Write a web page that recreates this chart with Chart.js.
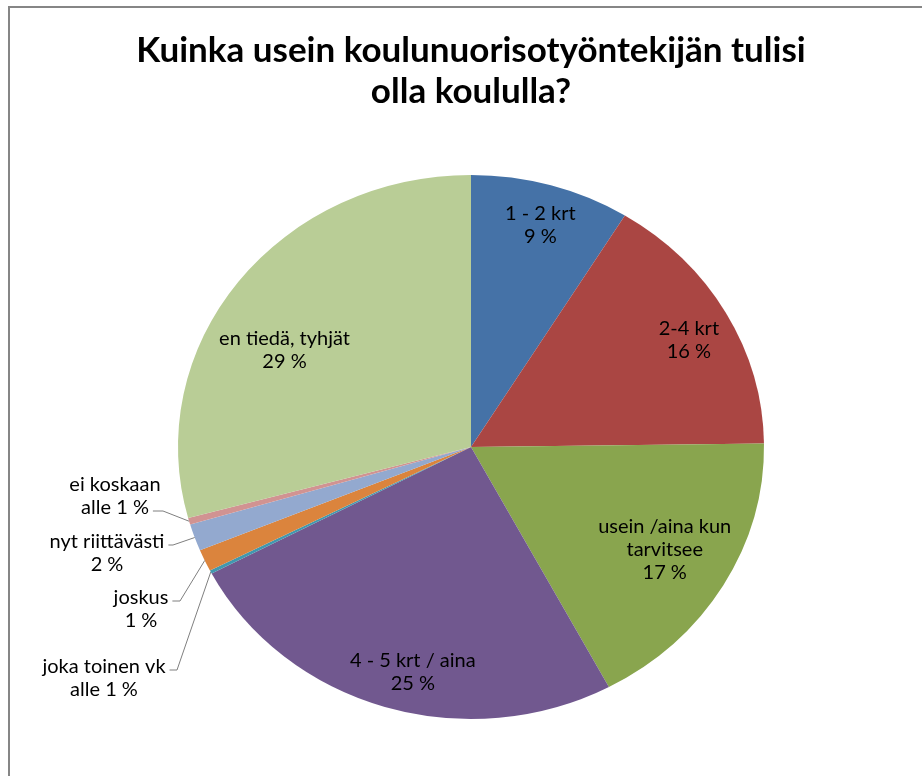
<!DOCTYPE html>
<html>
<head>
<meta charset="utf-8">
<script src="https://cdn.jsdelivr.net/npm/chart.js@4.4.1/dist/chart.umd.min.js"></script>
<style>
html, body { margin: 0; padding: 0; background: #fff; }
#wrap { position: relative; width: 922px; height: 776px; overflow: hidden; }
#frame { position: absolute; left: 8px; top: 6px; width: 940px; height: 800px; border: 2px solid #868686; box-sizing: border-box; }
canvas { position: absolute; left: 0; top: 0; }
</style>
</head>
<body>
<div id="wrap">
  <div id="frame"></div>
  <canvas id="pieChart" width="922" height="776"></canvas>
</div>
<script>
// vastaukset (%)
const titleLines = ['Kuinka usein koulunuorisotyöntekijän tulisi', 'olla koululla?'];
const categories = ['1 - 2 krt', '2-4 krt', ['usein /aina kun', 'tarvitsee'], '4 - 5 krt / aina',
    'joka toinen vk', 'joskus', 'nyt riittävästi', 'ei koskaan', 'en tiedä, tyhjät'];
const values = [8.8, 16.0, 17.4, 25.1, 0.2, 1.3, 1.6, 0.4, 29.2];
const colors = ['#4572A7', '#AA4643', '#89A54E', '#71588F', '#4198AF', '#DB843D', '#93A9CF', '#D19392', '#B9CD96'];

// tyyli / sijoittelu
const yScale = 272 / 293;           // piirakka on hieman litistetty
const labelFont = '20px Lato';
const lineH = 23;
const insideNudge = [[7, -18], [19, -2], [-3, -5], [9, 22], null, null, null, null, [-5, 32]];
const outside = {
    4: { x: 104, y: 667, attach: 0, elbowX: 177 },
    5: { x: 141, y: 598, attach: 0, elbowX: 180 },
    6: { x: 107, y: 542, attach: 0, elbowX: 173 },
    7: { x: 115, y: 485, attach: 1, elbowX: 163 }
};

function pctText(v) {
    return v < 1 ? 'alle 1 %' : Math.round(v) + ' %';
}

const squash = {
    id: 'squash',
    beforeDatasetsDraw(chart) {
        const a = chart.getDatasetMeta(0).data[0];
        const ctx = chart.ctx;
        ctx.save();
        ctx.translate(0, a.y);
        ctx.scale(1, yScale);
        ctx.translate(0, -a.y);
    },
    afterDatasetsDraw(chart) {
        chart.ctx.restore();
    }
};

const labels = {
    id: 'labels',
    afterDraw(chart) {
        const ctx = chart.ctx;
        ctx.save();
        // otsikko
        ctx.fillStyle = '#000';
        ctx.textAlign = 'center';
        ctx.textBaseline = 'alphabetic';
        ctx.font = 'bold 34px Lato';
        const w = ctx.measureText(titleLines[0]).width;
        const size = 34 * 670 / w;
        ctx.font = 'bold ' + size.toFixed(1) + 'px Lato';
        ctx.fillText(titleLines[0], 471, 62);
        ctx.fillText(titleLines[1], 471, 103);

        ctx.font = labelFont;
        ctx.textBaseline = 'middle';
        chart.getDatasetMeta(0).data.forEach((arc, i) => {
            const p = arc.getProps(['x', 'y', 'startAngle', 'endAngle', 'outerRadius'], true);
            const mid = (p.startAngle + p.endAngle) / 2;
            const name = [].concat(categories[i]);
            const lines = name.concat([pctText(values[i])]);
            if (outside[i]) {
                const o = outside[i];
                lines.forEach((t, k) => ctx.fillText(t, o.x, o.y + k * lineH));
                const ly = o.y + o.attach * lineH + 3;
                const lx = o.x + ctx.measureText(lines[o.attach]).width / 2 + 4;
                const ex = p.x + Math.cos(mid) * p.outerRadius;
                const ey = p.y + Math.sin(mid) * p.outerRadius * yScale;
                ctx.strokeStyle = '#7f7f7f';
                ctx.lineWidth = 1;
                ctx.beginPath();
                ctx.moveTo(lx, ly);
                ctx.lineTo(o.elbowX, ly);
                ctx.lineTo(ex, ey);
                ctx.stroke();
            } else {
                const r = p.outerRadius * 0.78;
                const n = insideNudge[i] || [0, 0];
                const cx = p.x + Math.cos(mid) * r + n[0];
                const cy = p.y + Math.sin(mid) * r * yScale + n[1];
                const top = cy - (lines.length - 1) * lineH / 2;
                lines.forEach((t, k) => ctx.fillText(t, cx, top + k * lineH));
            }
        });
        ctx.restore();
    }
};

const ctx = document.getElementById('pieChart').getContext('2d');
new Chart(ctx, {
    type: 'pie',
    data: {
        labels: categories,
        datasets: [{
            data: values,
            backgroundColor: colors,
            borderWidth: 0
        }]
    },
    options: {
        responsive: false,
        animation: false,
        layout: { padding: { left: 178, right: 158, top: 154, bottom: 36 } },
        plugins: {
            legend: { display: false },
            tooltip: { enabled: false }
        }
    },
    plugins: [squash, labels]
});
</script>
</body>
</html>
